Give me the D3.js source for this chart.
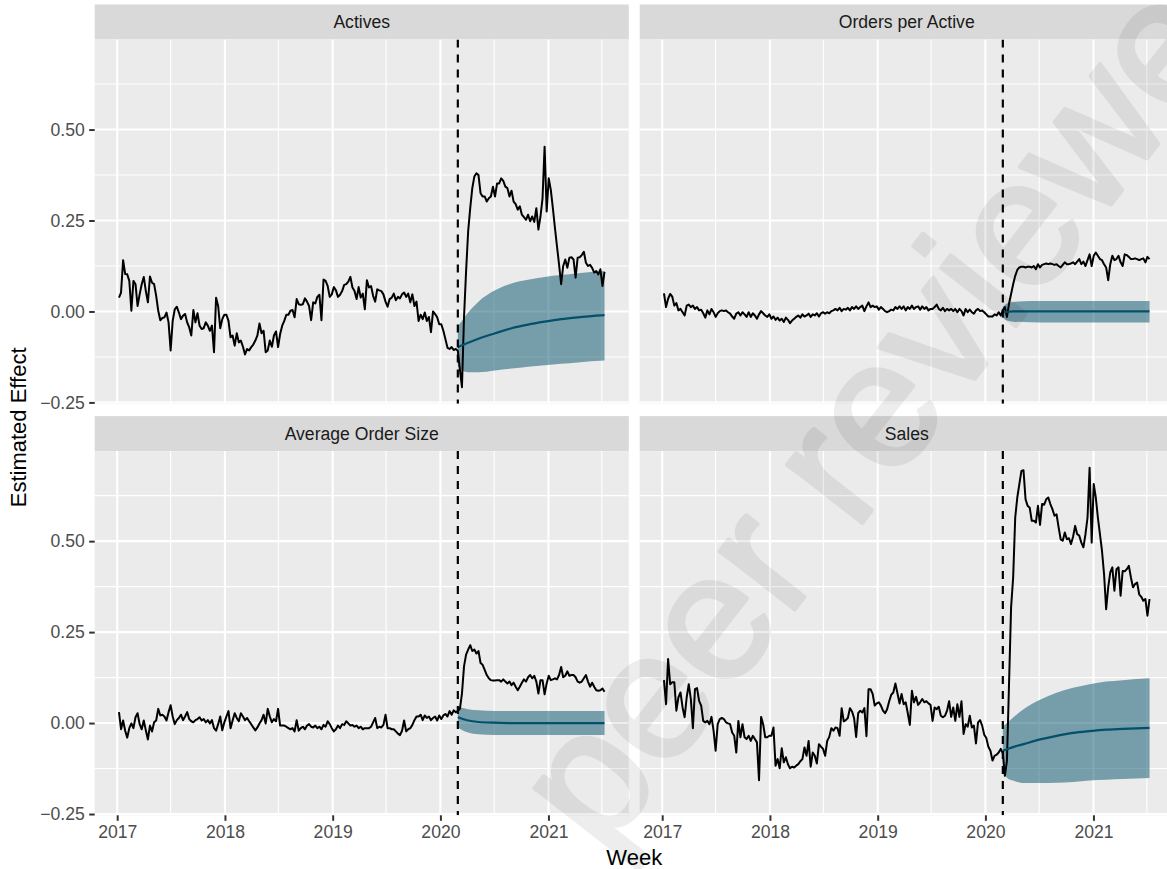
<!DOCTYPE html>
<html>
<head>
<meta charset="utf-8">
<script src="https://cdn.jsdelivr.net/npm/d3@7"></script>
<style>
  body { margin: 0; background: #ffffff; }
  svg { display: block; font-family: "Liberation Sans", Arial, Helvetica, sans-serif; }
</style>
</head>
<body>
<div id="chart"></div>
<script>
// Weekly estimated effects, first week ending 2017-01-07
var startWeek = new Date(2017, 0, 7);
var interventionWeek = 164;   // 2020-02-29

var facetNames = ["Actives", "Orders per Active", "Average Order Size", "Sales"];

var activesEffect = [0.038,0.052,0.141,0.103,0.102,0.084,0.002,0.084,0.075,0.015,0.047,0.075,0.095,0.056,0.025,0.096,0.079,0.075,0.043,0.002,
  -0.024,-0.018,-0.016,-0.003,-0.030,-0.107,-0.026,0.006,0.013,-0.003,-0.021,-0.012,-0.007,-0.030,-0.044,-0.066,0.004,-0.030,-0.005,-0.039,
  -0.048,-0.046,-0.030,-0.039,-0.053,-0.039,-0.112,0.038,0.015,-0.046,-0.021,-0.009,-0.009,-0.026,-0.071,-0.066,-0.094,-0.060,-0.085,-0.080,
  -0.097,-0.118,-0.103,-0.107,-0.098,-0.091,-0.080,-0.066,-0.033,-0.060,-0.053,-0.112,-0.107,-0.080,-0.097,-0.066,-0.055,-0.098,-0.062,-0.039,
  -0.026,-0.009,-0.009,0.002,0.004,-0.016,0.034,0.020,0.018,0.020,0.036,0.027,0.015,-0.024,0.025,0.022,0.040,0.046,-0.024,0.088,
  0.084,0.070,0.040,0.047,0.067,0.058,0.040,0.046,0.056,0.073,0.075,0.082,0.095,0.066,0.056,0.034,0.067,0.038,0.049,0.006,
  0.086,0.066,0.070,0.043,0.027,0.061,0.058,0.056,0.047,0.027,0.013,0.034,0.038,0.049,0.031,0.040,0.036,0.047,0.052,0.040,
  0.049,0.025,0.047,0.015,0.027,-0.026,-0.009,-0.021,-0.003,-0.026,-0.015,-0.057,0.000,-0.007,-0.016,-0.035,-0.035,-0.053,-0.076,-0.100,
  -0.103,-0.098,-0.106,-0.103,-0.108,-0.160,-0.208,-0.016,0.111,0.220,0.284,0.339,0.371,0.380,0.375,0.325,0.316,0.316,0.302,0.311,
  0.316,0.343,0.316,0.352,0.352,0.366,0.359,0.343,0.339,0.316,0.332,0.302,0.295,0.280,0.289,0.266,0.259,0.252,0.266,0.248,
  0.261,0.246,0.284,0.225,0.261,0.311,0.453,0.275,0.366,0.334,0.284,0.230,0.179,0.129,0.075,0.125,0.143,0.120,0.148,0.149,
  0.143,0.093,0.148,0.149,0.155,0.164,0.134,0.125,0.128,0.120,0.107,0.111,0.102,0.116,0.070,0.109];

var ordersPerActiveEffect = [0.050,0.012,0.035,0.048,0.041,0.016,0.023,0.003,0.007,-0.002,-0.011,0.016,0.019,0.012,0.016,0.007,0.012,0.003,0.005,-0.005,
  -0.017,0.003,-0.008,0.007,-0.002,-0.015,-0.005,0.001,0.003,0.001,0.003,-0.002,-0.006,-0.014,-0.020,-0.006,-0.002,-0.011,-0.002,-0.008,
  -0.015,-0.002,-0.015,-0.005,-0.011,-0.020,-0.008,0.001,-0.005,-0.011,-0.015,-0.008,-0.020,-0.014,-0.023,-0.017,-0.025,-0.020,-0.029,-0.017,
  -0.023,-0.032,-0.025,-0.020,-0.015,-0.011,-0.017,-0.008,-0.014,-0.011,-0.006,-0.015,-0.008,-0.011,-0.005,-0.014,-0.005,-0.002,-0.006,-0.002,
  -0.005,0.001,0.003,0.007,0.003,0.010,0.001,0.007,0.005,0.010,0.003,0.012,0.007,0.014,0.007,0.012,0.016,0.001,0.014,0.025,
  0.012,0.016,0.012,0.014,0.005,0.012,0.007,0.001,-0.002,0.001,0.005,0.003,0.012,0.007,0.014,0.007,0.014,0.003,0.012,0.007,
  0.016,0.007,0.012,0.014,0.005,0.014,0.007,0.012,0.003,0.007,0.007,0.012,0.019,0.007,0.003,0.010,0.001,0.007,0.003,0.007,
  0.001,0.007,-0.002,0.007,0.001,-0.011,0.007,-0.002,0.005,-0.002,-0.006,0.003,0.007,0.001,0.003,-0.002,-0.008,-0.014,-0.014,-0.014,
  -0.008,-0.011,-0.002,-0.011,0.003,0.012,-0.015,0.021,0.048,0.075,0.098,0.114,0.121,0.123,0.123,0.121,0.123,0.123,0.121,0.125,
  0.116,0.130,0.121,0.128,0.130,0.132,0.130,0.132,0.130,0.128,0.130,0.125,0.121,0.128,0.135,0.130,0.130,0.132,0.135,0.130,
  0.137,0.144,0.130,0.137,0.125,0.141,0.157,0.125,0.153,0.162,0.153,0.144,0.141,0.130,0.121,0.086,0.130,0.153,0.141,0.144,
  0.153,0.135,0.125,0.157,0.155,0.150,0.144,0.144,0.146,0.144,0.141,0.144,0.146,0.135,0.150,0.144];

var avgOrderSizeEffect = [0.030,-0.017,0.007,-0.021,-0.040,-0.014,-0.001,-0.014,0.016,0.027,-0.003,-0.017,0.007,-0.020,-0.045,-0.007,-0.023,0.002,0.007,0.039,
  0.021,0.023,0.018,0.007,0.030,0.049,0.018,-0.003,0.008,0.014,0.023,0.008,0.018,0.030,0.011,0.005,0.002,0.008,0.011,0.016,
  0.007,0.011,0.002,0.008,-0.001,0.008,-0.014,-0.021,-0.003,0.018,-0.020,0.002,0.018,0.033,-0.014,0.007,0.027,0.014,0.005,0.027,
  0.018,0.008,0.014,0.005,-0.003,-0.012,-0.020,-0.012,-0.001,0.008,0.023,-0.001,0.039,0.018,0.002,0.011,0.005,0.039,-0.007,-0.007,
  -0.007,-0.010,-0.014,-0.017,-0.014,-0.023,0.008,-0.021,-0.014,-0.010,-0.017,-0.007,-0.003,-0.010,-0.012,-0.007,-0.014,-0.010,-0.017,-0.005,
  -0.010,0.005,-0.003,-0.014,-0.023,-0.017,-0.007,-0.014,-0.003,-0.005,0.005,-0.001,-0.007,-0.005,-0.010,-0.007,-0.014,-0.010,-0.017,-0.014,
  -0.014,-0.014,-0.010,0.002,0.014,-0.014,-0.010,-0.012,-0.005,0.023,-0.014,-0.014,-0.017,-0.017,-0.023,-0.029,-0.033,-0.021,0.007,-0.023,
  -0.017,-0.014,-0.005,0.008,0.018,0.018,0.023,0.008,0.021,0.014,0.018,0.008,0.014,0.018,0.007,0.021,0.011,0.021,0.025,0.018,
  0.033,0.023,0.035,0.030,0.033,0.039,0.081,0.156,0.188,0.202,0.214,0.198,0.202,0.191,0.198,0.165,0.160,0.146,0.132,0.123,
  0.118,0.117,0.117,0.118,0.118,0.114,0.120,0.114,0.109,0.114,0.104,0.111,0.100,0.090,0.100,0.111,0.120,0.114,0.126,0.132,
  0.123,0.130,0.114,0.081,0.118,0.118,0.079,0.109,0.130,0.118,0.120,0.123,0.120,0.132,0.154,0.126,0.130,0.142,0.130,0.132,
  0.132,0.126,0.114,0.111,0.114,0.123,0.132,0.114,0.100,0.111,0.100,0.090,0.089,0.090,0.095,0.086];

var salesEffect = [0.118,0.052,0.176,0.107,0.112,0.112,0.034,0.071,0.084,0.043,0.016,0.071,0.107,0.066,-0.014,0.093,0.096,0.061,0.048,0.006,
  0.002,0.006,-0.003,0.017,-0.021,-0.076,-0.003,0.011,0.014,0.011,0.002,-0.001,-0.003,-0.026,-0.035,-0.081,0.006,-0.039,-0.003,-0.039,
  -0.044,-0.035,-0.049,-0.035,-0.044,-0.053,-0.157,0.017,-0.003,-0.039,-0.039,-0.035,-0.035,-0.012,-0.117,-0.099,-0.124,-0.069,-0.108,-0.094,
  -0.113,-0.124,-0.120,-0.122,-0.117,-0.113,-0.105,-0.099,-0.067,-0.090,-0.049,-0.120,-0.081,-0.090,-0.111,-0.058,-0.065,-0.071,-0.090,-0.049,
  -0.038,-0.014,-0.021,-0.012,-0.014,-0.035,0.041,0.005,0.008,0.014,0.041,0.032,0.014,-0.038,0.027,0.034,0.029,0.041,-0.036,0.093,
  0.093,0.080,0.048,0.054,0.057,0.048,0.034,0.027,0.038,0.060,0.078,0.084,0.109,0.082,0.054,0.080,0.052,0.057,0.027,-0.005,
  0.089,0.057,0.072,0.050,0.057,0.066,0.057,0.060,0.054,0.050,0.006,0.043,0.038,0.045,0.020,0.016,0.020,0.034,0.060,0.017,
  0.043,0.006,0.052,0.017,0.060,-0.030,-0.003,-0.010,0.020,-0.012,-0.007,-0.056,0.002,0.008,-0.007,-0.032,-0.041,-0.065,-0.076,-0.103,
  -0.090,-0.087,-0.081,-0.071,-0.083,-0.145,-0.103,0.107,0.318,0.400,0.565,0.620,0.657,0.693,0.695,0.615,0.597,0.592,0.556,0.556,
  0.551,0.597,0.545,0.602,0.600,0.615,0.620,0.602,0.588,0.570,0.574,0.538,0.505,0.501,0.524,0.505,0.508,0.492,0.512,0.542,
  0.519,0.515,0.496,0.483,0.519,0.565,0.702,0.496,0.657,0.620,0.565,0.519,0.473,0.409,0.313,0.373,0.414,0.428,0.364,0.423,
  0.428,0.350,0.418,0.417,0.423,0.432,0.400,0.373,0.382,0.386,0.354,0.347,0.336,0.341,0.295,0.341];

// counterfactual forecast after the intervention (week index, mean, lower, upper)
var fcWeeks = [164, 166, 169, 174, 182, 190, 198, 206, 214, 222, 235];
var activesMean = [-0.098, -0.093, -0.086, -0.075, -0.060, -0.046, -0.036, -0.028, -0.021, -0.016, -0.010];
var activesLow  = [-0.150, -0.163, -0.167, -0.167, -0.162, -0.157, -0.152, -0.148, -0.144, -0.140, -0.135];
var activesHigh = [-0.039, -0.026, -0.003, 0.027, 0.058, 0.077, 0.087, 0.095, 0.100, 0.105, 0.111];
var ordersMean = [-0.002, -0.001, 0.000, 0.000, 0.000, 0.000, 0.000, 0.000, 0.000, 0.000, 0.000];
var ordersLow  = [-0.015, -0.025, -0.028, -0.029, -0.030, -0.030, -0.030, -0.030, -0.030, -0.030, -0.030];
var ordersHigh = [0.012, 0.022, 0.026, 0.028, 0.029, 0.029, 0.029, 0.029, 0.029, 0.029, 0.029];
var sizeMean = [0.016, 0.012, 0.007, 0.003, 0.001, 0.000, 0.000, 0.000, 0.000, 0.000, 0.000];
var sizeLow  = [-0.012, -0.019, -0.026, -0.031, -0.033, -0.033, -0.033, -0.033, -0.033, -0.033, -0.033];
var sizeHigh = [0.045, 0.042, 0.038, 0.035, 0.033, 0.033, 0.033, 0.033, 0.033, 0.033, 0.033];
var salesMean = [-0.076, -0.072, -0.066, -0.058, -0.045, -0.035, -0.027, -0.022, -0.018, -0.016, -0.013];
var salesLow  = [-0.135, -0.150, -0.158, -0.165, -0.165, -0.164, -0.162, -0.158, -0.156, -0.154, -0.151];
var salesHigh = [-0.010, 0.000, 0.015, 0.038, 0.064, 0.083, 0.097, 0.107, 0.114, 0.118, 0.123];

var yearTicks = [2017, 2018, 2019, 2020, 2021];
var yMajor = [-0.25, 0, 0.25, 0.5];
var yMinor = [-0.125, 0.125, 0.375, 0.625];

var effects = [activesEffect, ordersPerActiveEffect, avgOrderSizeEffect, salesEffect];
var forecasts = [
  {mean: activesMean, low: activesLow, high: activesHigh},
  {mean: ordersMean, low: ordersLow, high: ordersHigh},
  {mean: sizeMean, low: sizeLow, high: sizeHigh},
  {mean: salesMean, low: salesLow, high: salesHigh}
];

function weekDate(i) {
  return new Date(startWeek.getFullYear(), startWeek.getMonth(), startWeek.getDate() + 7 * i);
}

// layout (ggplot-like facet_wrap, 2 x 2)
var W = 1167, H = 869;
var colLeft = [94.7, 639.7], panelW = 534.1;
var rowTop = [39.5, 451.1], panelH = 364.2;
var stripH = 35;

var svg = d3.select("#chart").append("svg")
    .attr("width", W)
    .attr("height", H);

// X scale with 5% expansion of the data range
var nWeeks = activesEffect.length;
var d0 = weekDate(0), d1 = weekDate(nWeeks - 1);
var padMs = (d1 - d0) * 0.05;
var x = d3.scaleTime()
    .domain([new Date(+d0 - padMs), new Date(+d1 + padMs)])
    .range([0, panelW]);

// Y scale, fixed across facets, 5% expansion
var allVals = [].concat(activesEffect, ordersPerActiveEffect, avgOrderSizeEffect, salesEffect,
  activesLow, activesHigh, ordersLow, ordersHigh, sizeLow, sizeHigh, salesLow, salesHigh);
var yExt = d3.extent(allVals);
var yPad = (yExt[1] - yExt[0]) * 0.05;
var y = d3.scaleLinear()
    .domain([yExt[0] - yPad, yExt[1] + yPad])
    .range([panelH, 0]);

var defs = svg.append("defs");
defs.append("clipPath").attr("id", "panel-clip")
  .append("rect").attr("width", panelW).attr("height", panelH);

var effectLine = d3.line()
    .x(function(d, i){ return x(weekDate(i)); })
    .y(function(d){ return y(d); });

facetNames.forEach(function(name, k){
  var col = k % 2, row = Math.floor(k / 2);
  var g = svg.append("g")
      .attr("transform", "translate(" + colLeft[col] + "," + rowTop[row] + ")");

  // strip
  g.append("rect")
    .attr("x", 0).attr("y", -stripH)
    .attr("width", panelW).attr("height", stripH)
    .attr("fill", "#d9d9d9");
  g.append("text")
    .attr("x", panelW / 2).attr("y", -stripH / 2)
    .attr("dy", "0.36em")
    .attr("text-anchor", "middle")
    .attr("font-size", "17.6px")
    .attr("fill", "#1a1a1a")
    .text(name);

  // panel background + grid
  g.append("rect")
    .attr("width", panelW).attr("height", panelH)
    .attr("fill", "#ebebeb");

  var grid = g.append("g").attr("clip-path", "url(#panel-clip)");
  var minorX = yearTicks.map(function(yr){ return new Date(yr, 6, 1); });
  grid.selectAll(".ymin").data(yMinor).enter().append("line")
    .attr("x1", 0).attr("x2", panelW)
    .attr("y1", function(d){ return y(d); }).attr("y2", function(d){ return y(d); })
    .attr("stroke", "#ffffff").attr("stroke-width", 1.1);
  grid.selectAll(".xmin").data(minorX).enter().append("line")
    .attr("y1", 0).attr("y2", panelH)
    .attr("x1", function(d){ return x(d); }).attr("x2", function(d){ return x(d); })
    .attr("stroke", "#ffffff").attr("stroke-width", 1.1);
  grid.selectAll(".ymaj").data(yMajor).enter().append("line")
    .attr("x1", 0).attr("x2", panelW)
    .attr("y1", function(d){ return y(d); }).attr("y2", function(d){ return y(d); })
    .attr("stroke", "#ffffff").attr("stroke-width", 2.1);
  grid.selectAll(".xmaj").data(yearTicks).enter().append("line")
    .attr("y1", 0).attr("y2", panelH)
    .attr("x1", function(d){ return x(new Date(d, 0, 1)); })
    .attr("x2", function(d){ return x(new Date(d, 0, 1)); })
    .attr("stroke", "#ffffff").attr("stroke-width", 2.1);

  var plot = g.append("g").attr("clip-path", "url(#panel-clip)");

  // forecast ribbon
  var fc = forecasts[k];
  var band = fcWeeks.map(function(w, j){
    return {date: weekDate(w), mean: fc.mean[j], low: fc.low[j], high: fc.high[j]};
  });
  plot.append("path")
    .datum(band)
    .attr("fill", "#02506a")
    .attr("fill-opacity", 0.5)
    .attr("d", d3.area()
      .curve(d3.curveMonotoneX)
      .x(function(d){ return x(d.date); })
      .y0(function(d){ return y(d.low); })
      .y1(function(d){ return y(d.high); }));

  // observed effect
  plot.append("path")
    .datum(effects[k])
    .attr("fill", "none")
    .attr("stroke", "#000000")
    .attr("stroke-width", 2)
    .attr("stroke-linejoin", "round")
    .attr("d", effectLine);

  // forecast mean
  plot.append("path")
    .datum(band)
    .attr("fill", "none")
    .attr("stroke", "#02506a")
    .attr("stroke-width", 2.2)
    .attr("d", d3.line()
      .curve(d3.curveMonotoneX)
      .x(function(d){ return x(d.date); })
      .y(function(d){ return y(d.mean); }));

  // intervention marker
  plot.append("line")
    .attr("x1", x(weekDate(interventionWeek))).attr("x2", x(weekDate(interventionWeek)))
    .attr("y1", 0).attr("y2", panelH)
    .attr("stroke", "#000000")
    .attr("stroke-width", 2.2)
    .attr("stroke-dasharray", "8,7");

  // axes: y on left column, x on bottom row
  if (col === 0) {
    var yAxisG = g.append("g")
      .call(d3.axisLeft(y).tickValues(yMajor).tickFormat(d3.format(".2f"))
        .tickSize(5.5).tickPadding(4.4));
    yAxisG.select(".domain").remove();
    yAxisG.selectAll(".tick line").attr("stroke", "#333333").attr("stroke-width", 2);
    yAxisG.selectAll(".tick text").attr("fill", "#4d4d4d").attr("font-size", "17.6px")
      .attr("font-family", "'Liberation Sans', Arial, sans-serif");
  }
  if (row === 1) {
    var xAxisG = g.append("g")
      .attr("transform", "translate(0," + panelH + ")")
      .call(d3.axisBottom(x)
        .tickValues(yearTicks.map(function(yr){ return new Date(yr, 0, 1); }))
        .tickFormat(d3.timeFormat("%Y"))
        .tickSize(5.5).tickPadding(4.4));
    xAxisG.select(".domain").remove();
    xAxisG.selectAll(".tick line").attr("stroke", "#333333").attr("stroke-width", 2);
    xAxisG.selectAll(".tick text").attr("fill", "#4d4d4d").attr("font-size", "17.6px")
      .attr("font-family", "'Liberation Sans', Arial, sans-serif");
  }
});

// axis titles
svg.append("text")
  .attr("transform", "translate(18," + ((rowTop[0] + rowTop[1] + panelH) / 2) + ") rotate(-90)")
  .attr("dy", "0.36em")
  .attr("text-anchor", "middle")
  .attr("font-size", "22px")
  .attr("fill", "#000000")
  .text("Estimated Effect");

svg.append("text")
  .attr("x", (colLeft[0] + colLeft[1] + panelW) / 2)
  .attr("y", 865)
  .attr("text-anchor", "middle")
  .attr("font-size", "22px")
  .attr("fill", "#000000")
  .text("Week");

// watermark (runs off the page edges, as in the source)
svg.append("g")
  .attr("opacity", 0.065)
  .append("text")
  .attr("transform", "translate(602,856) rotate(-52)")
  .attr("font-size", "180px")
  .attr("fill", "#000000")
  .attr("stroke", "#000000")
  .attr("stroke-width", 4)
  .attr("stroke-linejoin", "round")
  .text("peer reviewed");
</script>
</body>
</html>
